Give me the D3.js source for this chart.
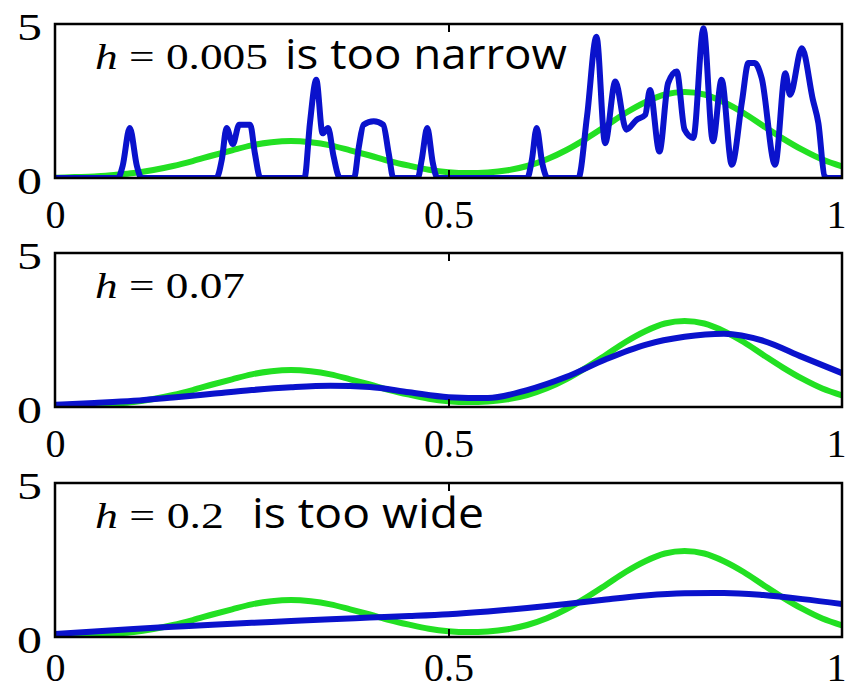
<!DOCTYPE html>
<html>
<head>
<meta charset="utf-8">
<script src="https://cdn.jsdelivr.net/npm/d3@7/dist/d3.min.js"></script>
<style>
  html, body { margin: 0; padding: 0; background: #fff; }
  svg { display: block; }
</style>
</head>
<body>
<script>
// ---------- data ----------
const gridFine = d3.range(0, 41).map(i => i / 40);   // 0, 0.025, ..., 1
const gridCoarse = d3.range(0, 21).map(i => i / 20); // 0, 0.05, ..., 1

// true density (green), same in all three panels, sampled at gridFine
const trueDensity = [0.01,0.03,0.05,0.10,0.16,0.26,0.39,0.55,0.73,0.90,1.06,1.16,1.20,1.16,1.06,0.90,0.73,0.55,0.40,0.27,0.19,0.16,0.18,0.25,0.39,0.61,0.91,1.28,1.69,2.11,2.46,2.71,2.79,2.71,2.46,2.11,1.69,1.28,0.91,0.60,0.38];

// h = 0.005 estimate (blue), irregular x positions
const narrowX = [0,0.080,0.086,0.095,0.104,0.110,0.205,0.212,0.218,0.226,0.234,0.248,0.254,0.261,0.317,0.324,0.332,0.340,0.347,0.354,0.362,0.380,0.386,0.392,0.405,0.417,0.424,0.430,0.461,0.466,0.473,0.480,0.486,0.600,0.606,0.612,0.619,0.626,0.665,0.676,0.688,0.699,0.712,0.726,0.739,0.750,0.756,0.768,0.779,0.790,0.800,0.811,0.824,0.836,0.847,0.860,0.873,0.881,0.889,0.898,0.915,0.928,0.934,0.949,0.963,0.970,0.978,0.982,1.000];
const narrowY = [0,0,0.4,1.62,0.4,0,0,0.6,1.62,1.1,1.73,1.73,0.8,0,0,1.8,3.19,1.45,1.62,0.7,0,0,1.0,1.73,1.84,1.73,0.8,0,0,0.6,1.62,0.5,0,0,0.6,1.62,0.5,0,0,2.0,4.59,1.13,3.13,1.57,1.89,2.05,2.86,0.86,3.08,3.46,1.57,1.30,4.86,1.19,3.19,0.43,2.5,3.73,3.73,3.24,0.43,3.40,2.70,4.21,2.54,1.78,0.05,0,0];

// h = 0.07 estimate (blue), sampled at gridCoarse
const mediumY = [0.07,0.13,0.20,0.31,0.43,0.55,0.64,0.69,0.65,0.48,0.32,0.29,0.55,0.98,1.55,2.02,2.28,2.38,2.15,1.62,1.10];

// h = 0.2 estimate (blue), sampled at gridCoarse
const wideY = [0.10,0.18,0.26,0.33,0.40,0.46,0.52,0.58,0.63,0.68,0.74,0.83,0.94,1.07,1.22,1.35,1.42,1.43,1.36,1.23,1.07];

const xTicks = [0, 0.5, 1];
const xTickLabels = ["0", "0.5", "1"];
const yTicks = [0, 5];
const yTickLabels = ["0", "5"];

const panelMath = ["0.005", "0.07", "0.2"];
const panelNote = ["is too narrow", "", "is too wide"];

// ---------- layout ----------
const W = 846, H = 690;
const left = 55, right = 842;
const panelTops = [24, 253, 483];
const panelH = 154;
const mathLen = [173, 150, 129];
const noteX = [285, 0, 252];
const noteLen = [282, 0, 232];

const svg = d3.select("body").append("svg").attr("width", W).attr("height", H);
svg.append("rect").attr("width", W).attr("height", H).attr("fill", "#fff");

const x = d3.scaleLinear().domain([0, 1]).range([left, right]);

const blueSeries = [
  narrowX.map((v, i) => [v, narrowY[i]]),
  gridCoarse.map((v, i) => [v, mediumY[i]]),
  gridCoarse.map((v, i) => [v, wideY[i]])
];
const greenSeries = gridFine.map((v, i) => [v, trueDensity[i]]);

panelTops.forEach((top, p) => {
  const y = d3.scaleLinear().domain([0, 5]).range([top + panelH, top]);
  const g = svg.append("g");

  const clipId = "clip" + p;
  svg.append("clipPath").attr("id", clipId)
    .append("rect").attr("x", left).attr("y", top).attr("width", right - left).attr("height", panelH);

  const line = d3.line().x(d => x(d[0])).y(d => y(d[1])).curve(d3.curveMonotoneX);

  const plot = g.append("g").attr("clip-path", `url(#${clipId})`);
  plot.append("path").datum(greenSeries).attr("d", line)
    .attr("fill", "none").attr("stroke", "#22e022").attr("stroke-width", 6)
    .attr("stroke-linejoin", "round").attr("stroke-linecap", "round");
  plot.append("path").datum(blueSeries[p]).attr("d", line)
    .attr("fill", "none").attr("stroke", "#0a12cc").attr("stroke-width", 6)
    .attr("stroke-linejoin", "round").attr("stroke-linecap", "round");

  // inward tick marks at 0.5 on top and bottom
  const tb = g.append("g").attr("transform", `translate(0,${top + panelH})`)
    .call(d3.axisBottom(x).tickValues([0.5]).tickSize(-8).tickFormat(""));
  const tt = g.append("g").attr("transform", `translate(0,${top})`)
    .call(d3.axisTop(x).tickValues([0.5]).tickSize(-8).tickFormat(""));
  [tb, tt].forEach(a => {
    a.select(".domain").remove();
    a.selectAll("line").attr("stroke", "#000").attr("stroke-width", 2);
  });

  // frame
  g.append("rect").attr("x", left).attr("y", top).attr("width", right - left).attr("height", panelH)
    .attr("fill", "none").attr("stroke", "#000").attr("stroke-width", 2.5);

  // x tick labels (kept inside the picture's bottom edge)
  const labelOffset = Math.min(50, H - 9 - (top + panelH));
  const xl = g.append("g").attr("transform", `translate(0,${top + panelH})`)
    .call(d3.axisBottom(x).tickValues(xTicks).tickSize(0).tickFormat((d, i) => xTickLabels[i]));
  xl.select(".domain").remove();
  xl.selectAll("text")
    .attr("y", 0).attr("dy", null)
    .attr("transform", d => d === 1 ? `translate(4,${labelOffset})` : `translate(0,${labelOffset})`)
    .attr("text-anchor", d => d === 1 ? "end" : "middle")
    .attr("font-family", "'Liberation Serif', 'Times New Roman', serif")
    .attr("font-size", 40).attr("fill", "#000");

  // y tick labels
  const yl = g.append("g").attr("transform", `translate(${left},0)`)
    .call(d3.axisLeft(y).tickValues(yTicks).tickSize(0).tickFormat((d, i) => yTickLabels[i]));
  yl.select(".domain").remove();
  yl.selectAll("text")
    .attr("x", 0).attr("dy", null).attr("text-anchor", "end")
    .attr("transform", "translate(-13,15) scale(1.35,1)")
    .attr("font-family", "'Liberation Serif', 'Times New Roman', serif")
    .attr("font-size", 37).attr("fill", "#000");

  // annotation: math
  const base = top + 45;
  const mt = g.append("text").attr("x", 95).attr("y", base)
    .attr("font-family", "'Liberation Serif', 'Times New Roman', serif")
    .attr("font-size", 36).attr("fill", "#000")
    .attr("textLength", mathLen[p]).attr("lengthAdjust", "spacingAndGlyphs");
  mt.append("tspan").attr("font-style", "italic").text("h");
  mt.append("tspan").text(" = " + panelMath[p]);

  if (panelNote[p]) {
    g.append("text").attr("x", noteX[p]).attr("y", base)
      .attr("font-family", "'Open Sans', 'Lato', sans-serif")
      .attr("font-size", 42).attr("fill", "#000")
      .attr("textLength", noteLen[p]).attr("lengthAdjust", "spacingAndGlyphs")
      .text(panelNote[p]);
  }
});
</script>
</body>
</html>
